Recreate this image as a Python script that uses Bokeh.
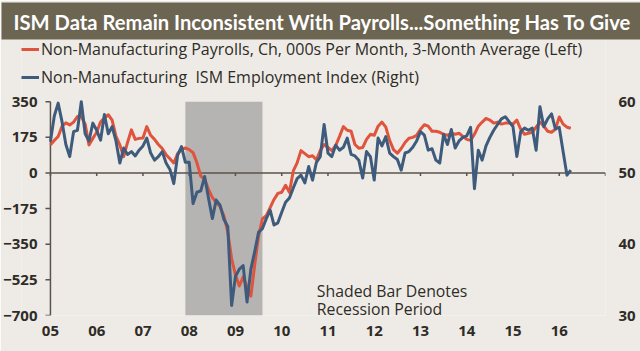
from bokeh.plotting import figure
from bokeh.models import (Range1d, LinearAxis, FixedTicker, BoxAnnotation, Label,
                          Legend, LegendItem, Title)
from bokeh.embed import file_html
from bokeh.resources import INLINE

# ---------------- data ----------------
title_text = "ISM Data Remain Inconsistent With Payrolls...Something Has To Give"
payroll_label = "Non-Manufacturing Payrolls, Ch, 000s Per Month, 3-Month Average (Left)"
ism_label = "Non-Manufacturing  ISM Employment Index (Right)"
note_lines = ["Shaded Bar Denotes", "Recession Period"]

start_year = 2005
payrolls = [
    138, 160, 179, 230, 246, 236, 250, 277, 277, 240, 138, 170,      # 2005
    200, 250, 270, 286, 260, 180, 138, 80, 150, 212, 165, 170,       # 2006
    172, 228, 185, 165, 140, 120, 90, 70, 49, 95, 115, 123,          # 2007
    115, 100, 50, -15, -30, -80, -120, -145, -165, -210, -290, -420,  # 2008
    -500, -555, -510, -560, -605, -450, -310, -225, -210, -170, -130, -100,  # 2009
    -95, -60, -95, 10, 50, 110, 95, 80, 85, 65, 110, 140,            # 2010
    125, 110, 135, 180, 228, 210, 205, 140, 122, 125, 165, 190,      # 2011
    185, 230, 250, 225, 160, 115, 97, 120, 150, 171, 175, 185,       # 2012
    215, 237, 230, 205, 205, 200, 190, 185, 195, 190, 195, 180,      # 2013
    165, 160, 190, 230, 250, 268, 260, 245, 250, 240, 245, 245,      # 2014
    240, 260, 215, 190, 195, 200, 225, 250, 230, 205, 200, 215,      # 2015
    275, 240, 225, 220,                                              # 2016
]
ism_employment = [
    54.4, 58.0, 59.8, 57.2, 54.0, 52.3, 55.8, 56.0, 60.0, 55.5, 54.5, 57.0,  # 2005
    56.0, 54.6, 58.2, 55.5, 56.5, 54.5, 51.4, 53.5, 52.6, 53.0, 52.4, 53.2,  # 2006
    53.8, 54.9, 52.8, 51.8, 52.3, 53.0, 51.4, 50.5, 48.5, 52.5, 53.7, 51.5,  # 2007
    51.5, 45.7, 47.3, 47.5, 49.5, 46.5, 43.6, 46.2, 45.5, 43.5, 42.5, 31.4,  # 2008
    35.5, 36.5, 37.0, 31.9, 36.5, 39.0, 41.7, 42.2, 43.6, 44.8, 42.7, 43.0,  # 2009
    44.5, 45.9, 46.5, 47.9, 49.2, 49.7, 48.6, 50.9, 49.0, 51.5, 52.3, 56.8,  # 2010
    52.8, 52.3, 53.9, 53.2, 53.6, 54.9, 52.6, 52.4, 51.8, 49.3, 53.0, 52.3,  # 2011
    49.0, 54.9, 53.8, 55.1, 52.8, 52.3, 51.9, 50.4, 52.8, 53.0, 53.6, 54.5,  # 2012
    55.8, 55.3, 53.2, 53.4, 51.8, 51.4, 55.4, 54.0, 56.1, 53.5, 54.5, 55.0,  # 2013
    55.2, 56.4, 47.8, 53.2, 51.8, 53.8, 55.0, 56.0, 56.8, 57.6, 57.9, 57.2,  # 2014
    56.5, 52.3, 55.8, 56.3, 56.0, 56.3, 53.2, 59.3, 56.5, 57.6, 58.3, 56.2,  # 2015
    56.4, 53.0, 49.7, 50.4,                                                  # 2016
]
recession = [2007 + 11 / 12, 2009 + 7 / 12]   # Dec 2007 - Jun 2009
year_ticks = list(range(2005, 2018))
year_labels = ["05", "06", "07", "08", "09", "10", "11", "12", "13", "14", "15", "16"]
left_ticks = [-700, -525, -350, -175, 0, 175, 350]
right_ticks = [30, 40, 50, 60]

# ---------------- styles / geometry ----------------
BG = "#eeebe6"
BAR = "#6c6552"
RED = "#e0533d"
BLUE = "#3f5b7c"
TXT = "#2f2b27"
AX = "#5b534a"
FONT = "Open Sans"
W, H = 640, 351
LEFT_PAD_YEARS = 29 / (556 / 12)      # frame starts 29px left of the 2005 axis line
TOP_VALUE = 350 + 62 / (213 / 1050)   # frame extends 62px above the 350 line (legend room)
LEFT_MIN, LEFT_MAX = left_ticks[0], left_ticks[-1]
RIGHT_MIN, RIGHT_MAX = right_ticks[0], right_ticks[-1]
ism_top = RIGHT_MIN + (TOP_VALUE - LEFT_MIN) * (RIGHT_MAX - RIGHT_MIN) / (LEFT_MAX - LEFT_MIN)

pay_x = [start_year + i / 12 for i in range(len(payrolls))]
ism_x = [start_year + i / 12 for i in range(len(ism_employment))]

p = figure(width=W, height=H,
           x_range=Range1d(year_ticks[0] - LEFT_PAD_YEARS, year_ticks[-1]),
           y_range=Range1d(LEFT_MIN, TOP_VALUE),
           toolbar_location=None, output_backend="svg",
           min_border_left=20, min_border_right=35, min_border_top=0, min_border_bottom=36,
           background_fill_color=BG, border_fill_color=BG, outline_line_color=None)
p.extra_y_ranges = {"ism": Range1d(RIGHT_MIN, ism_top)}
p.grid.visible = False

# title bar
p.add_layout(Title(text=title_text, align="left", offset=-20, standoff=0,
                   text_color="white", text_font="Lato", text_font_style="bold",
                   text_font_size="20.2px", background_fill_color=BAR,
                   padding=dict(left=12, right=300, top=7, bottom=6)), "above")

# recession shading
p.add_layout(BoxAnnotation(left=recession[0], right=recession[1], top=LEFT_MAX, bottom=LEFT_MIN,
                           fill_color="#b5b4b2", fill_alpha=1, line_color=None,
                           level="underlay"))

# left axis line + ticks at 2005, zero line with year ticks
x0 = year_ticks[0]
tick_len_years = 5 / (556 / 12)
p.segment(x0=[x0], x1=[x0], y0=[LEFT_MIN], y1=[LEFT_MAX], line_color=AX, line_width=1.5)
p.segment(x0=[x0 - tick_len_years] * len(left_ticks), x1=[x0] * len(left_ticks),
          y0=left_ticks, y1=left_ticks, line_color=AX, line_width=1.5)
p.segment(x0=[year_ticks[0]], x1=[year_ticks[-1]], y0=[0], y1=[0], line_color=AX, line_width=1.5)
p.segment(x0=year_ticks, x1=year_ticks, y0=[0] * len(year_ticks), y1=[-15] * len(year_ticks),
          line_color=AX, line_width=1.5)

r_red = p.line(pay_x, payrolls, line_color=RED, line_width=3, line_join="round")
r_blue = p.line(ism_x, ism_employment, line_color=BLUE, line_width=3, line_join="round",
                y_range_name="ism")

legend = Legend(items=[LegendItem(label=payroll_label, renderers=[r_red]),
                       LegendItem(label=ism_label, renderers=[r_blue])],
                location=(0, 227), orientation="vertical",
                glyph_width=18, glyph_height=20, label_height=20, label_standoff=2,
                spacing=6, padding=0, margin=0, border_line_color=None,
                background_fill_alpha=0, label_text_font=FONT,
                label_text_font_size="16px", label_text_color=TXT)
p.add_layout(legend)

# bottom axis (labels only)
xa = p.xaxis[0]
xa.ticker = FixedTicker(ticks=year_ticks[:-1])
xa.major_label_overrides = {y: l for y, l in zip(year_ticks, year_labels)}
xa.axis_line_color = None
xa.major_tick_line_color = None
xa.minor_tick_line_color = None
xa.major_tick_out = 0
xa.major_label_standoff = 10

# left axis (labels only; its line is drawn at 2005 above)
ya = p.yaxis[0]
ya.ticker = FixedTicker(ticks=left_ticks)
ya.axis_line_color = None
ya.major_tick_line_color = None
ya.minor_tick_line_color = None
ya.major_tick_out = 0
ya.major_tick_in = 0
ya.major_label_standoff = -16

# right axis
ra = LinearAxis(y_range_name="ism", ticker=FixedTicker(ticks=right_ticks))
ra.axis_line_color = None
ra.major_tick_line_color = None
ra.minor_tick_line_color = None
ra.major_tick_out = 0
ra.major_label_standoff = 13
p.add_layout(ra, "right")

for ax in [xa, ya, ra]:
    ax.major_label_text_font = FONT
    ax.major_label_text_font_size = "15px"
    ax.major_label_text_font_style = "bold"
    ax.major_label_text_color = TXT

for txt, yv in zip(note_lines, [-580, -668]):
    p.add_layout(Label(x=2010.76, y=yv, text=txt, text_font=FONT, text_font_size="15.8px",
                       text_color=TXT, text_baseline="alphabetic"))

open("out.html", "w").write(file_html(p, INLINE))
